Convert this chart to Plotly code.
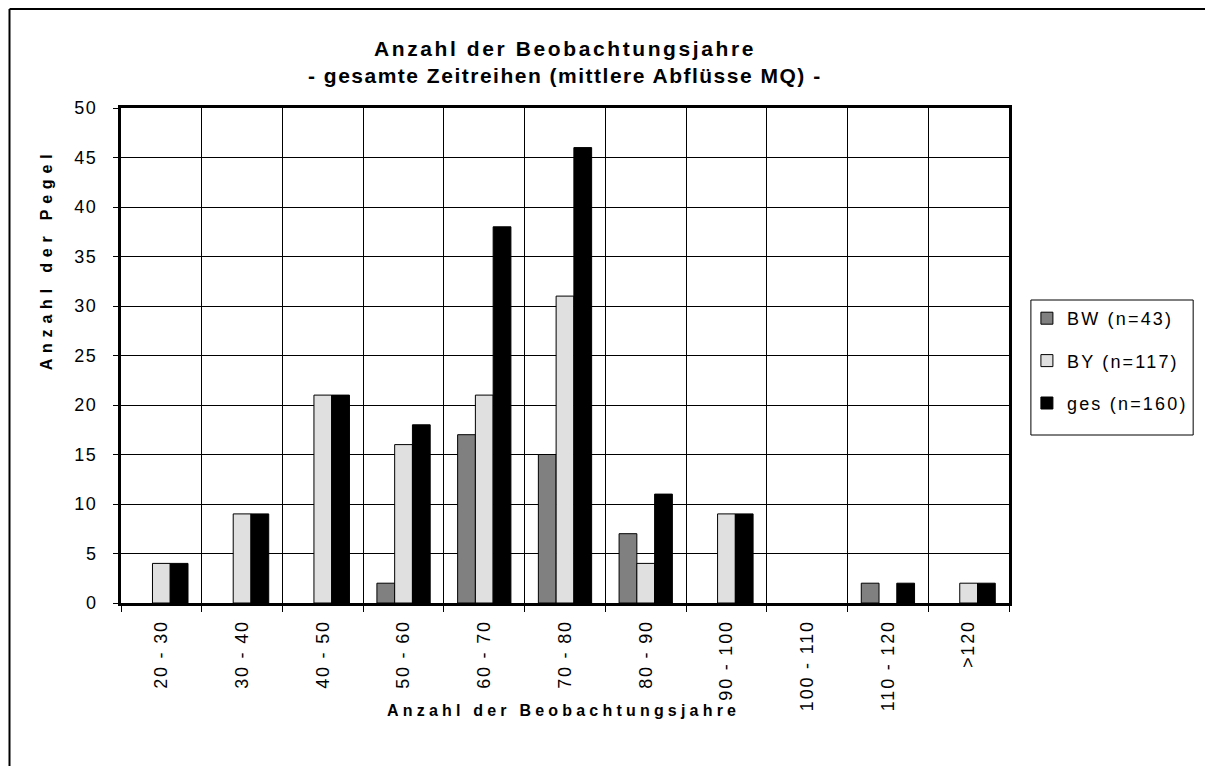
import plotly.graph_objects as go

categories = ["20 - 30", "30 - 40", "40 - 50", "50 - 60", "60 - 70", "70 - 80",
              "80 - 90", "90 - 100", "100 - 110", "110 - 120", ">120"]
bw = [0, 0, 0, 2, 17, 15, 7, 0, 0, 2, 0]
by = [4, 9, 21, 16, 21, 31, 4, 9, 0, 0, 2]
ges = [4, 9, 21, 18, 38, 46, 11, 9, 0, 2, 2]
series_names = ["BW (n=43)", "BY (n=117)", "ges (n=160)"]
y_ticks = list(range(0, 51, 5))
title_lines = ["Anzahl der Beobachtungsjahre", "- gesamte Zeitreihen (mittlere Abflüsse MQ) -"]
x_title = "Anzahl der Beobachtungsjahre"
y_title = "Anzahl der Pegel"

# page offset caused by default body margin
O = 8
W, H = 1213 - 2 * O, 774 - 2 * O
L, R, T, B = 121 - O, 1013 - O, 108 - O, 603 - O

def px(x):
    return (x - O - L) / (R - L)

def py(y):
    return (B - (y - O)) / (B - T)

def sp(text, s):
    return f"<span style='letter-spacing:{s}px'>{text}</span>"

FONT = "Arial, Liberation Sans, sans-serif"
colors = ["#808080", "#E0E0E0", "#000000"]

fig = go.Figure()
for i, (name, vals) in enumerate(zip(series_names, [bw, by, ges])):
    fig.add_trace(go.Bar(
        x=categories, y=[v if v else None for v in vals], name=sp(name, 2.2),
        marker=dict(color=colors[i], line=dict(color="black", width=1)),
        legendgroup=f"g{i}",
    ))

fig.update_layout(
    width=W, height=H,
    margin=dict(l=L, r=W - R, t=T, b=H - B),
    paper_bgcolor="white", plot_bgcolor="white",
    barmode="group", bargap=0.34, bargroupgap=0,
    font=dict(family=FONT, color="black"),
    legend=dict(
        x=px(1031), y=py(300), xanchor="left", yanchor="top",
        borderwidth=0, bgcolor="rgba(0,0,0,0)",
        font=dict(size=18, family=FONT), tracegroupgap=16,
    ),
    showlegend=True,
)

fig.update_xaxes(
    type="category", tickson="boundaries",
    tickmode="array", tickvals=categories, ticktext=[sp(c, 1.8) for c in categories],
    showgrid=True, gridcolor="black", gridwidth=1,
    showline=True, linecolor="black", linewidth=3, mirror=True,
    ticks="outside", ticklen=6, tickcolor="black",
    tickangle=-90, tickfont=dict(size=18, family=FONT), ticklabelstandoff=7,
)
fig.update_yaxes(
    range=[0, 50], tickvals=y_ticks, ticktext=[sp(v, 1.5) for v in y_ticks],
    showgrid=True, gridcolor="black", gridwidth=1, zeroline=False,
    showline=True, linecolor="black", linewidth=3, mirror=True,
    ticks="outside", ticklen=5, tickcolor="black",
    tickfont=dict(size=18, family=FONT), ticklabelstandoff=12,
)

# titles
fig.add_annotation(text="<b>" + sp(title_lines[0], 2.6) + "</b>", xref="paper", yref="paper",
                   x=0.5, y=py(48), xanchor="center", yanchor="middle", showarrow=False,
                   font=dict(size=21, family=FONT))
fig.add_annotation(text="<b>" + sp(title_lines[1], 1.5) + "</b>", xref="paper", yref="paper",
                   x=0.5, y=py(75), xanchor="center", yanchor="middle", showarrow=False,
                   font=dict(size=21, family=FONT))
fig.add_annotation(text="<b>" + sp(x_title, 4.2) + "</b>", xref="paper", yref="paper",
                   x=px(565), y=py(710), xanchor="center", yanchor="middle", showarrow=False,
                   font=dict(size=16, family=FONT))
fig.add_annotation(text="<b>" + sp(y_title, 5.8) + "</b>", xref="paper", yref="paper",
                   x=px(47), y=py(259), xanchor="center", yanchor="middle", showarrow=False,
                   textangle=-90, font=dict(size=16, family=FONT))

# legend frame
fig.add_shape(type="rect", xref="paper", yref="paper",
              x0=px(1035), x1=px(1198), y0=py(435), y1=py(300),
              line=dict(color="black", width=1), fillcolor="white", layer="below")

# outer chart border (left and top visible)
bx = px(O + 1)
by_ = py(O + 1)
fig.add_shape(type="line", xref="paper", yref="paper",
              x0=bx, x1=px(1240), y0=by_, y1=by_,
              line=dict(color="black", width=2), layer="below")
fig.add_shape(type="line", xref="paper", yref="paper",
              x0=bx, x1=bx, y0=by_, y1=py(800),
              line=dict(color="black", width=2), layer="below")

fig.write_html("out.html")
